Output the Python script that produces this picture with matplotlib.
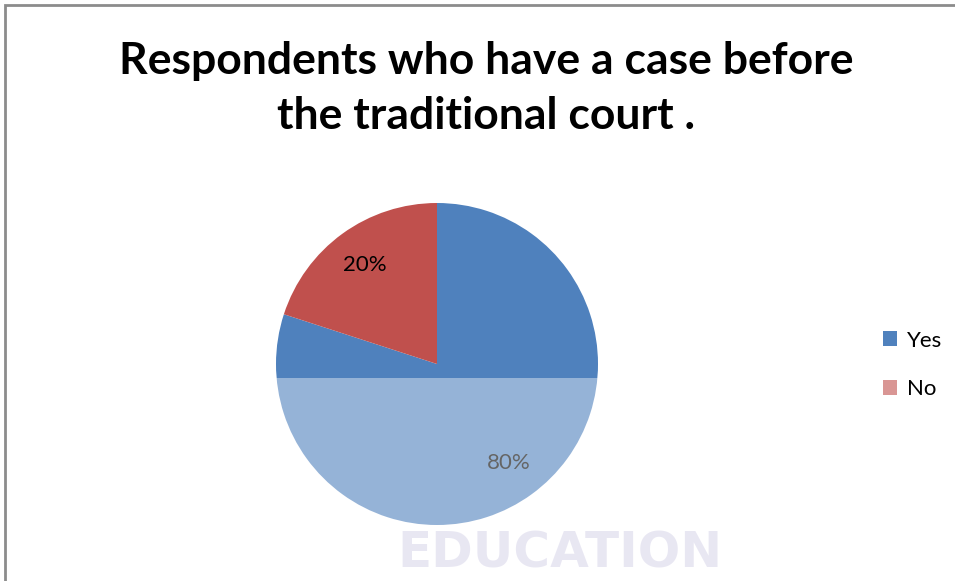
import matplotlib.pyplot as plt
from matplotlib.patches import Rectangle, Patch

labels = ['Yes', 'No']
shares = [80, 20]
colors = ['#4F81BD', '#C0504D']
legend_colors = ['#4F81BD', '#D99694']

W, H = 955, 581
fig = plt.figure(figsize=(W / 100, H / 100), dpi=100)
fig.patch.set_facecolor('white')

# chart frame (only top and left edges fall inside the image)
fig.patches.append(Rectangle((5 / W, -0.1), 1.2, (H - 5) / H + 0.1,
                             transform=fig.transFigure, fill=False,
                             edgecolor='#8c8c8c', linewidth=2))

fig.text(486 / W, 1 - 61 / H, 'Respondents who have a case before',
         ha='center', va='center', fontsize=32, fontweight='bold',
         family='Lato', color='black')
fig.text(486 / W, 1 - 116 / H, 'the traditional court .',
         ha='center', va='center', fontsize=32, fontweight='bold',
         family='Lato', color='black')

# pie: centre (437, 364) px, radius 161 px
cx, cy, r = 437, 364, 161
ax = fig.add_axes([(cx - r) / W, (H - cy - r) / H, 2 * r / W, 2 * r / H])
wedges, texts, autotexts = ax.pie(shares, colors=colors, startangle=90,
                                  counterclock=False, radius=1,
                                  autopct='%d%%', pctdistance=0.76,
                                  wedgeprops=dict(linewidth=0))
for t in autotexts:
    t.set_fontsize(16)
    t.set_family('Lato')
    t.set_color('black')
ax.set_xlim(-1, 1)
ax.set_ylim(-1, 1)
ax.set_aspect('equal')
ax.axis('off')

# washed-out lower band
fig.patches.append(Rectangle((250 / W, 0), 420 / W, (H - 378) / H,
                             transform=fig.transFigure, facecolor='white',
                             edgecolor='none', alpha=0.4, zorder=5))

fig.text(560 / W, 1 - 568 / H, 'EDUCATION', ha='center', va='baseline',
         fontsize=36, fontweight='bold', family='DejaVu Sans',
         color='#9a94c8', alpha=0.22, zorder=6)

handles = [Patch(facecolor=c, edgecolor='none') for c in legend_colors]
fig.legend(handles, labels, loc='center left',
           bbox_to_anchor=(863 / W, 1 - 365 / H), frameon=False,
           prop={'family': 'Lato', 'size': 16}, handlelength=0.65,
           handleheight=0.65, handletextpad=0.45, labelspacing=1.3)

fig.savefig('out.png', dpi=100)
